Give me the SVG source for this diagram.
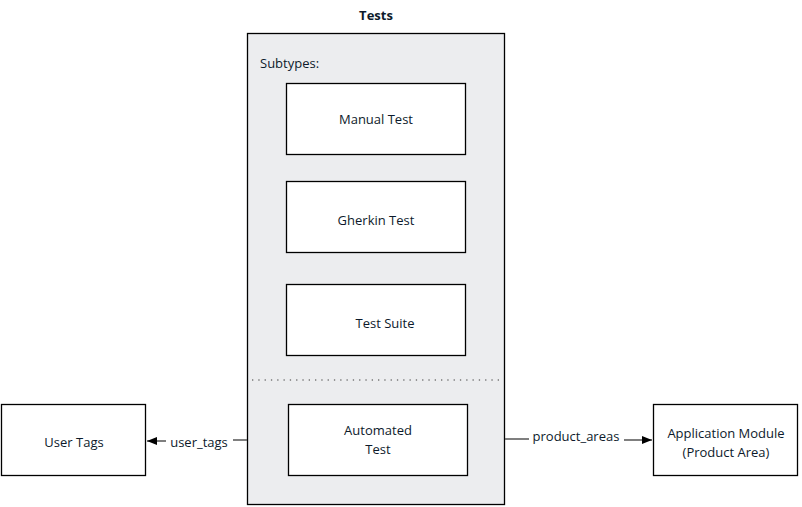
<svg xmlns="http://www.w3.org/2000/svg" width="802" height="507" viewBox="0 0 802 507">
<style>
text{font-family:"Open Sans","Liberation Sans",sans-serif;font-size:13px;fill:#0d1a2b}
.b{fill:#fff;stroke:#000;stroke-width:1.3}
.c{stroke:#555;stroke-width:1.3;fill:none}
</style>
<defs><marker id="a" markerWidth="10" markerHeight="8" refX="10" refY="4" orient="auto" markerUnits="userSpaceOnUse"><path d="M0,0L10,4L0,8z" fill="#000"/></marker></defs>
<rect width="802" height="507" fill="#fff"/>
<g id="tests">
<text x="376" y="20" text-anchor="middle" font-weight="bold" font-size="12">Tests</text>
<rect x="247.5" y="33.5" width="257" height="471" fill="#ecedef" stroke="#000" stroke-width="1.3"/>
<text x="260" y="68">Subtypes:</text>
<line x1="252" y1="380" x2="502" y2="380" stroke="#777" stroke-width="1.3" stroke-dasharray="1.3,5"/>
</g>
<g id="manual"><rect class="b" x="286.5" y="83.5" width="179" height="71"/><text x="376" y="124" text-anchor="middle">Manual Test</text></g>
<g id="gherkin"><rect class="b" x="286.5" y="181.5" width="179" height="71"/><text x="376" y="225" text-anchor="middle">Gherkin Test</text></g>
<g id="suite"><rect class="b" x="286.5" y="284.5" width="179" height="71"/><text x="385" y="328" text-anchor="middle">Test Suite</text></g>
<g id="automated"><rect class="b" x="288.5" y="404.5" width="179" height="71"/><text x="378" y="435" text-anchor="middle">Automated</text><text x="378" y="454" text-anchor="middle">Test</text></g>
<g id="usertags"><rect class="b" x="1.5" y="404.5" width="144" height="71"/><text x="74" y="447" text-anchor="middle">User Tags</text></g>
<g id="appmodule"><rect class="b" x="653.5" y="404.5" width="144" height="71"/><text x="726" y="438" text-anchor="middle">Application Module</text><text x="726" y="457" text-anchor="middle">(Product Area)</text></g>
<g id="connectors">
<path class="c" d="M247,440H233M166,441H147" marker-end="url(#a)"/>
<text x="199" y="447" text-anchor="middle">user_tags</text>
<path class="c" d="M505,439H529M624,440H652" marker-end="url(#a)"/>
<text x="576" y="441" text-anchor="middle">product_areas</text>
</g>
</svg>
